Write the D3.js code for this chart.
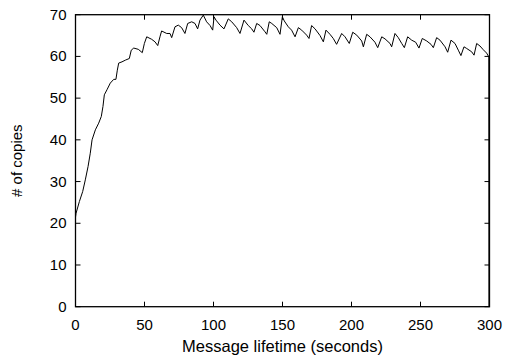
<!DOCTYPE html>
<html><head><meta charset="utf-8">
<script src="https://cdn.jsdelivr.net/npm/d3@7"></script>
<style>body{margin:0;background:#fff}svg{display:block}</style>
</head><body>
<script>
const xTicks = [0, 50, 100, 150, 200, 250, 300];
const yTicks = [0, 10, 20, 30, 40, 50, 60, 70];
const xLabel = "Message lifetime (seconds)";
const yLabel = "# of copies";
const times = [0, 0.4, 2.8, 5.2, 7.1, 9.1, 10.7, 12, 14.4, 16.8, 18.7, 19.9, 20.9, 22.8, 25.2, 27.7, 29.3, 30.3, 31.3, 33.7, 36.1, 39, 40.4, 42.2, 45.5, 48.4,
  49.9, 51.6, 55.2, 57.6, 59.6, 61.2, 62.4, 66.1, 68.5, 69.7, 72.1, 74.5, 76.9, 79.3, 81.3, 84.2, 86.6, 88.5, 90.2, 92.6, 95, 97.5, 99.4,
  100.4, 101.8, 104.7, 107.6, 110.7, 113.2, 116.8, 119.2, 122.1, 125.2, 127.7, 129.3, 131.3, 133.7, 137.3, 138.6, 140.4, 142.2, 145.8, 148.2,
  149.9, 151.3, 154.2, 156.6, 159.1, 161.5, 163.9, 167.5, 169.2, 171.1, 173.6, 177.2, 179.6, 181.5, 184.4, 186.8, 189.2, 192.9, 195.3, 198.4,
  200.9, 203.8, 207.4, 208.6, 211, 213.4, 217, 219, 221.9, 224.3, 227.9, 229.1, 231.5, 233.9, 236.4, 238.3, 240.7, 243.6, 246.5, 248.9,
  251.3, 254.5, 257.6, 259.3, 261.7, 264.1, 267.8, 269.7, 272.1, 275, 277.4, 279.3, 281.5, 283.5, 287.1, 288.8, 290.7, 293.1, 295.5, 297.9, 299.5, 299.6];
const copies = [21.5, 22.4, 25.2, 27.6, 30.4, 33.6, 36.8, 40, 42.4, 44, 45.6, 48, 50.8, 52, 53.6, 54.5, 54.5, 56.7, 58.4, 58.7, 59.1, 59.5, 61.5, 62, 61.7, 60.9,
  63.1, 64.7, 64.1, 63.5, 62.6, 64.7, 66.1, 65.5, 65.5, 64.5, 67.1, 67.5, 66.9, 65.5, 67.9, 68.3, 67.9, 66.6, 68.7, 69.9, 68.3, 67.4, 66.3,
  69.5, 68.7, 67.5, 66.6, 69, 68.3, 66.9, 65.5, 68.7, 67.4, 66.6, 65.8, 67.9, 67.4, 65.9, 65.3, 68.3, 67.9, 66.9, 65.3,
  69.5, 68.5, 67.1, 66.3, 64.7, 66.9, 66.3, 65.1, 64.3, 67.4, 66.6, 65, 63.5, 66.3, 65.3, 64.3, 62.9, 65.5, 64.7, 63.1,
  65.8, 65.1, 63.7, 62.3, 65.3, 64.7, 63.4, 62.1, 64.7, 64.2, 63.1, 62.3, 65.5, 64.5, 63.1, 62.1, 64.7, 63.9, 63.4, 62,
  64.3, 63.7, 62.9, 62.1, 64.5, 63.9, 62.3, 61, 63.9, 63.1, 61.5, 60.2, 62.3, 61.9, 61.1, 60.3, 63.1, 62.5, 61.6, 60.8, 59.9, 0];

const W = 508, H = 358;
const m = {left: 75.5, right: 489.5, top: 14.7, bottom: 306.7};
const svg = d3.select("body").append("svg").attr("width", W).attr("height", H);
const x = d3.scaleLinear().domain([0, 300]).range([m.left, m.right]);
const y = d3.scaleLinear().domain([0, 70]).range([m.bottom, m.top]);
const font = "Liberation Sans, Arial, Helvetica, sans-serif";
const tl = 5;

const g = svg.append("g");
xTicks.forEach(t => {
  g.append("line").attr("x1", x(t)).attr("x2", x(t)).attr("y1", m.bottom).attr("y2", m.bottom - tl).attr("stroke", "#000");
  g.append("line").attr("x1", x(t)).attr("x2", x(t)).attr("y1", m.top).attr("y2", m.top + tl).attr("stroke", "#000");
  g.append("text").attr("x", x(t)).attr("y", m.bottom + 23).attr("text-anchor", "middle")
    .attr("font-family", font).attr("font-size", 15).text(t);
});
yTicks.forEach(t => {
  g.append("line").attr("x1", m.left).attr("x2", m.left + tl).attr("y1", y(t)).attr("y2", y(t)).attr("stroke", "#000");
  g.append("line").attr("x1", m.right).attr("x2", m.right - tl).attr("y1", y(t)).attr("y2", y(t)).attr("stroke", "#000");
  g.append("text").attr("x", m.left - 9).attr("y", y(t) + 5).attr("text-anchor", "end")
    .attr("font-family", font).attr("font-size", 15).text(t);
});

const data = times.map((t, i) => [t, copies[i]]);
svg.append("path").datum(data)
  .attr("d", d3.line().x(d => x(d[0])).y(d => y(d[1])))
  .attr("fill", "none").attr("stroke", "#000").attr("stroke-width", 1);

svg.append("rect").attr("x", m.left).attr("y", m.top).attr("width", m.right - m.left).attr("height", m.bottom - m.top)
  .attr("fill", "none").attr("stroke", "#000").attr("stroke-width", 1.3);

svg.append("text").attr("x", (m.left + m.right) / 2).attr("y", 352).attr("text-anchor", "middle")
  .attr("font-family", font).attr("font-size", 16.5).text(xLabel);
svg.append("text").attr("transform", `translate(22,${(m.top + m.bottom) / 2}) rotate(-90)`).attr("text-anchor", "middle")
  .attr("font-family", font).attr("font-size", 15).text(yLabel);
</script>
</body></html>
